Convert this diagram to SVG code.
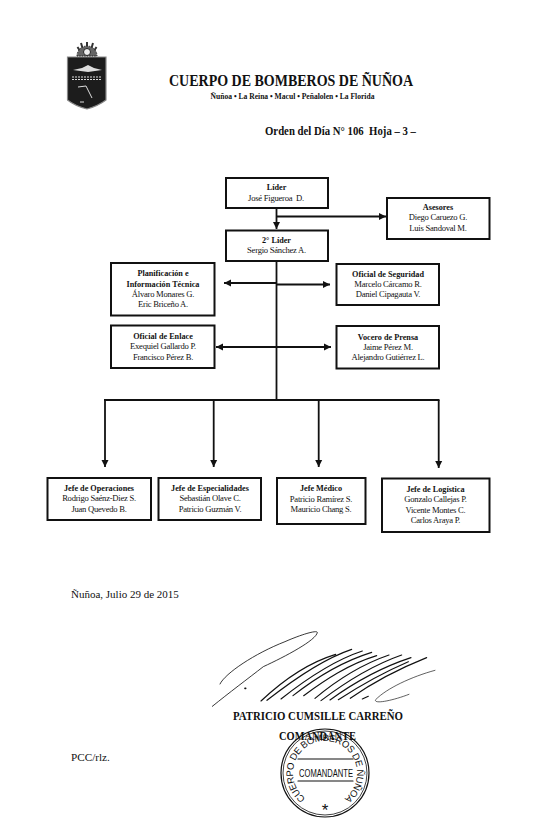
<svg xmlns="http://www.w3.org/2000/svg" width="550" height="837" viewBox="0 0 550 837">
<style>
text{font-family:"Liberation Serif","Times New Roman",serif;fill:#111}
.box{fill:#fff;stroke:#111;stroke-width:2}
.t{font-size:8.2px;font-weight:bold;text-anchor:middle}
.n{font-size:8.6px;letter-spacing:-.25px;text-anchor:middle;white-space:pre}
.c{fill:none;stroke:#111;stroke-width:1.8}
.s{fill:none;stroke:#111;stroke-linecap:round}
.st{font-family:"Liberation Sans",Arial,sans-serif}
</style>
<defs>
<marker id="a" markerUnits="userSpaceOnUse" markerWidth="8" markerHeight="8" refX="7" refY="4" orient="auto-start-reverse"><path d="M0 0.500L7 4L0 7.500Z" fill="#111"/></marker>
<path id="ring" d="M304.400 797.500A32 32 0 1 1 345.600 797.500"/>
<filter id="soft" x="-10%" y="-10%" width="120%" height="120%"><feGaussianBlur stdDeviation=".45"/></filter>
</defs>
<rect width="550" height="837" fill="#fff"/>
<g id="emblem" filter="url(#soft)">
<path d="M67.500 57H106V100Q98 106 87 109Q75 106 67.500 100Z" fill="#1c1c1c" stroke="#888" stroke-width="1.200"/>
<path d="M87 42V53M81 43L84 53M93 43L90 53M77.500 47L82 54M96.500 47L92 54" stroke="#333" stroke-width="2" fill="none"/>
<path d="M77 56A10 10 0 0 1 97 56Z" fill="#666" stroke="#222" stroke-width="1" stroke-dasharray="1.500 1"/>
<circle cx="87" cy="52" r="3.500" fill="#eee" stroke="#222"/>
<path d="M73 70L82 68L88 65L94 68L102 70L88 72Z" fill="#ddd"/>
<path d="M72 77H102M72 79.500H102" stroke="#ddd" stroke-width="1.200" stroke-dasharray="2 1"/>
<path d="M78 87L86 86M86 86L92 98M80 102H84" stroke="#ddd" stroke-width="1" fill="none"/>
</g>
<g id="header">
<text x="169" y="85.500" font-size="16.300" font-weight="bold" textLength="244" lengthAdjust="spacingAndGlyphs">CUERPO DE BOMBEROS DE ÑUÑOA</text>
<text x="210.500" y="99" font-size="7.800" font-weight="bold" textLength="164" lengthAdjust="spacingAndGlyphs">Ñuñoa • La Reina • Macul • Peñalolen • La Florida</text>
<text x="265" y="135" font-size="12" font-weight="bold" xml:space="preserve" textLength="151" lengthAdjust="spacingAndGlyphs">Orden del Día N° 106  Hoja – 3 –</text>
</g>
<g id="connectors">
<path class="c" d="M276.500 208V229" marker-end="url(#a)"/>
<path class="c" d="M276.500 216.500H386" marker-end="url(#a)"/>
<path class="c" d="M276.500 261V400"/>
<path class="c" d="M224 283H276.500" marker-start="url(#a)"/>
<path class="c" d="M276.500 284.500H330" marker-end="url(#a)"/>
<path class="c" d="M216 347H331" marker-start="url(#a)" marker-end="url(#a)"/>
<path class="c" d="M104 400H439.500"/>
<path class="c" d="M105 400V467" marker-end="url(#a)"/>
<path class="c" d="M213.700 400V467" marker-end="url(#a)"/>
<path class="c" d="M318.700 400V467" marker-end="url(#a)"/>
<path class="c" d="M438.700 400V468" marker-end="url(#a)"/>
</g>
<g id="lider"><rect class="box" x="226" y="178" width="102" height="30"/><text class="t" x="276.500" y="190">Líder</text><text class="n" x="276" y="201" xml:space="preserve">José Figueroa  D.</text></g>
<g id="asesores"><rect class="box" x="387" y="198" width="102.500" height="41"/><text class="t" x="438" y="210">Asesores</text><text class="n" x="438" y="220">Diego Caruezo G.</text><text class="n" x="438" y="231">Luis Sandoval M.</text></g>
<g id="lider2"><rect class="box" x="226" y="230.500" width="102" height="30.500"/><text class="t" x="276.500" y="243">2° Líder</text><text class="n" x="276.500" y="253">Sergio Sánchez A.</text></g>
<g id="planificacion"><rect class="box" x="111" y="263" width="103.500" height="52.500"/><text class="t" x="163" y="276">Planificación e</text><text class="t" x="163" y="287">Información Técnica</text><text class="n" x="163" y="297">Álvaro Monares G.</text><text class="n" x="163" y="307">Eric Briceño A.</text></g>
<g id="seguridad"><rect class="box" x="336.500" y="264" width="102.500" height="41"/><text class="t" x="388" y="277">Oficial de Seguridad</text><text class="n" x="388" y="287">Marcelo Cárcamo R.</text><text class="n" x="388" y="297">Daniel Cipagauta V.</text></g>
<g id="enlace"><rect class="box" x="111" y="325.500" width="103.500" height="42.500"/><text class="t" x="163" y="339">Oficial de Enlace</text><text class="n" x="163" y="349">Exequiel Gallardo P.</text><text class="n" x="163" y="360">Francisco Pérez B.</text></g>
<g id="vocero"><rect class="box" x="336.500" y="326" width="102.500" height="42.500"/><text class="t" x="388" y="340">Vocero de Prensa</text><text class="n" x="388" y="350">Jaime Pérez M.</text><text class="n" x="388" y="360">Alejandro Gutiérrez L.</text></g>
<g id="operaciones"><rect class="box" x="47.500" y="478" width="103.500" height="42"/><text class="t" x="99" y="491">Jefe de Operaciones</text><text class="n" x="99" y="501">Rodrigo Saénz-Diez S.</text><text class="n" x="99" y="512">Juan Quevedo B.</text></g>
<g id="especialidades"><rect class="box" x="158.500" y="478" width="102.500" height="42"/><text class="t" x="210" y="491">Jefe de Especialidades</text><text class="n" x="210" y="501">Sebastián Olave C.</text><text class="n" x="210" y="512">Patricio Guzmán V.</text></g>
<g id="medico"><rect class="box" x="277" y="478" width="88.500" height="46"/><text class="t" x="321" y="491">Jefe Médico</text><text class="n" x="321" y="502">Patricio Ramírez S.</text><text class="n" x="321" y="512">Mauricio Chang S.</text></g>
<g id="logistica"><rect class="box" x="382" y="478.500" width="107.500" height="53.500"/><text class="t" x="435.500" y="492">Jefe de Logística</text><text class="n" x="435.500" y="502">Gonzalo Callejas P.</text><text class="n" x="435.500" y="513">Vicente Montes C.</text><text class="n" x="435.500" y="523">Carlos Araya P.</text></g>
<g id="footer">
<text x="71" y="598" font-size="11">Ñuñoa, Julio 29 de 2015</text>
<text x="71" y="761" font-size="11.200">PCC/rlz.</text>
</g>
<g id="signature" transform="translate(205 625) scale(.3333)">
<path class="s" stroke-width="2.500" d="M45 177C60 145 150 85 240 50C290 28 335 15 337 22C335 45 240 95 175 125C130 160 70 205 22 244"/>
<path class="s" stroke-width="5" d="M120 190h2"/>
<path class="s" stroke-width="3.500" d="M168 228C240 160 320 110 392 88M186 226C270 160 360 100 440 73M228 222C300 165 390 105 472 78M264 212C330 160 410 110 500 82M296 212C360 165 430 118 515 92M330 220C390 170 470 118 552 90M348 227C410 180 490 125 590 90M375 225C440 178 520 130 618 98M400 224C460 185 540 140 610 110M436 220C500 175 590 128 665 98M472 222L490 214"/>
<path class="s" stroke-width="2" d="M690 136C620 155 545 190 512 224C505 238 560 228 612 208"/>
</g>
<g id="signatory">
<text x="233" y="720" font-size="12" font-weight="bold" textLength="170" lengthAdjust="spacingAndGlyphs">PATRICIO CUMSILLE CARREÑO</text>
<text x="279" y="740" font-size="12" font-weight="bold" textLength="77" lengthAdjust="spacingAndGlyphs">COMANDANTE</text>
</g>
<g id="stamp">
<circle cx="325" cy="773" r="44" fill="none" stroke="#111" stroke-width="1.200"/>
<circle cx="325" cy="773" r="42" fill="none" stroke="#111" stroke-width=".8"/>
<text class="st" font-size="9.500" letter-spacing="-.3"><textPath href="#ring" startOffset="50%" text-anchor="middle">CUERPO DE BOMBEROS DE ÑUÑOA</textPath></text>
<path class="s" stroke-width="1.200" d="M298 759H353M298 781H353"/>
<text class="st" x="326" y="777" font-size="11.500" text-anchor="middle" textLength="54" lengthAdjust="spacingAndGlyphs">COMANDANTE</text>
<text class="st" x="325" y="816" font-size="17" text-anchor="middle">*</text>
</g>
</svg>
